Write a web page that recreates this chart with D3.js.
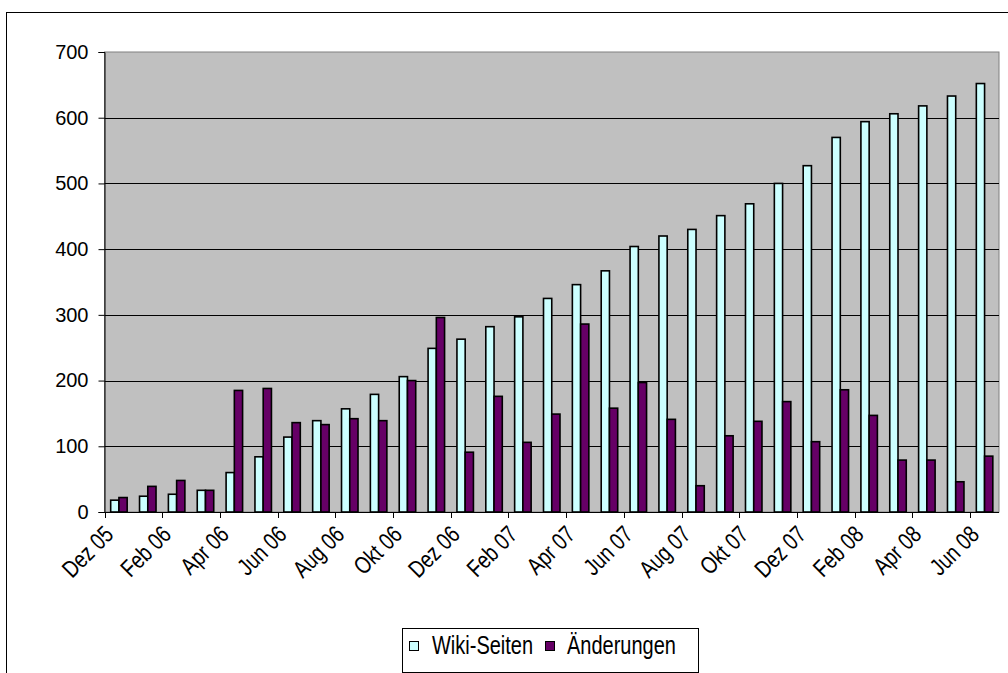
<!DOCTYPE html>
<html>
<head>
<meta charset="utf-8">
<script src="https://cdn.jsdelivr.net/npm/d3@7"></script>
<style>
  html, body { margin: 0; padding: 0; background: #ffffff; }
  svg { display: block; font-family: "Liberation Sans", Arial, sans-serif; }
</style>
</head>
<body>
<svg id="chart" width="1008" height="673"></svg>
<script>
// Monthly categories, Dez 05 .. Jun 08
const months = [
  "Dez 05", "Jan 06", "Feb 06", "Mär 06", "Apr 06", "Mai 06", "Jun 06", "Jul 06",
  "Aug 06", "Sep 06", "Okt 06", "Nov 06", "Dez 06", "Jan 07", "Feb 07", "Mär 07",
  "Apr 07", "Mai 07", "Jun 07", "Jul 07", "Aug 07", "Sep 07", "Okt 07", "Nov 07",
  "Dez 07", "Jan 08", "Feb 08", "Mär 08", "Apr 08", "Mai 08", "Jun 08"
];

// Number of wiki pages per month
const wikiSeiten = [
  18, 24, 27, 33, 60, 84, 114, 139, 157, 179, 206, 249, 263,
  282, 297, 325, 346, 367, 404, 420, 430, 451, 469, 500,
  527, 570, 594, 606, 618, 633, 652
];

// Number of edits per month
const aenderungen = [
  22, 39, 48, 33, 185, 188, 136, 133, 142, 139, 200, 296, 91,
  176, 106, 149, 286, 158, 197, 141, 40, 116, 138, 168,
  107, 186, 147, 79, 79, 46, 85
];

const seriesNames = ["Wiki-Seiten", "Änderungen"];
const seriesColors = ["#CCFFFF", "#660066"];
const yTicks = [0, 100, 200, 300, 400, 500, 600, 700];

const svg = d3.select("#chart");

// outer chart frame
svg.append("rect")
  .attr("x", 6.5).attr("y", 12.5)
  .attr("width", 1020).attr("height", 700)
  .attr("fill", "#ffffff").attr("stroke", "#000000").attr("stroke-width", 1);

const plot = { left: 104.5, right: 999, top: 52, bottom: 512 };

const x0 = d3.scaleBand()
  .domain(months)
  .range([plot.left, plot.right])
  .padding(0);

const x1 = d3.scaleBand()
  .domain(seriesNames)
  .range([0, x0.bandwidth()])
  .paddingInner(0)
  .paddingOuter(0.75);

const y = d3.scaleLinear()
  .domain([0, 700])
  .range([plot.bottom, plot.top]);

// plot background
svg.append("rect")
  .attr("x", plot.left).attr("y", plot.top)
  .attr("width", plot.right - plot.left).attr("height", plot.bottom - plot.top)
  .attr("fill", "#C0C0C0")
  .attr("stroke", "#808080").attr("stroke-width", 1);

// horizontal gridlines
svg.append("g")
  .selectAll("line")
  .data(yTicks.filter(d => d > 0 && d < 700))
  .join("line")
  .attr("x1", plot.left).attr("x2", plot.right)
  .attr("y1", d => Math.round(y(d)) + 0.5).attr("y2", d => Math.round(y(d)) + 0.5)
  .attr("stroke", "#000000").attr("stroke-width", 1);

// bars
const data = months.map((m, i) => ({ month: m, values: [wikiSeiten[i], aenderungen[i]] }));

const groups = svg.append("g")
  .selectAll("g")
  .data(data)
  .join("g")
  .attr("transform", d => `translate(${x0(d.month)},0)`);

groups.selectAll("rect")
  .data(d => d.values.map((v, k) => ({ name: seriesNames[k], value: v, k })))
  .join("rect")
  .attr("x", d => x1(d.name))
  .attr("y", d => y(d.value))
  .attr("width", x1.bandwidth())
  .attr("height", d => y(0) - y(d.value))
  .attr("fill", d => seriesColors[d.k])
  .attr("stroke", "#000000")
  .attr("stroke-width", 1.6);

// y axis
const yAxis = d3.axisLeft(y)
  .tickValues(yTicks)
  .tickSize(6)
  .tickPadding(10)
  .tickFormat(d3.format("d"));

const gy = svg.append("g")
  .attr("transform", `translate(${plot.left},0)`)
  .call(yAxis);
gy.select(".domain").attr("stroke", "#000000");
gy.selectAll(".tick line").attr("stroke", "#000000");
gy.selectAll(".tick text")
  .attr("font-size", 20)
  .attr("fill", "#000000")
  .attr("font-family", "Liberation Sans, Arial, sans-serif");

// x axis: ticks every second month boundary, labels under every second month
const xAxisLine = svg.append("g");
xAxisLine.append("line")
  .attr("x1", plot.left).attr("x2", plot.right)
  .attr("y1", plot.bottom + 0.5).attr("y2", plot.bottom + 0.5)
  .attr("stroke", "#000000");

xAxisLine.selectAll("line.tick")
  .data(months.filter((m, i) => i % 2 === 0))
  .join("line")
  .attr("class", "tick")
  .attr("x1", d => Math.round(x0(d)) + 0.5).attr("x2", d => Math.round(x0(d)) + 0.5)
  .attr("y1", plot.bottom).attr("y2", plot.bottom + 6)
  .attr("stroke", "#000000");

// narrow-set labels rotated by 45 degrees
xAxisLine.selectAll("text")
  .data(months.filter((m, i) => i % 2 === 0))
  .join("text")
  .attr("transform", d => `translate(${x0(d) + x0.bandwidth() / 2 - 4},${plot.bottom + 24}) rotate(-45) scale(0.8,1)`)
  .attr("text-anchor", "end")
  .attr("font-size", 24)
  .attr("fill", "#000000")
  .text(d => d);

// legend
const legend = svg.append("g");
legend.append("rect")
  .attr("x", 402.5).attr("y", 628.5)
  .attr("width", 296).attr("height", 44)
  .attr("fill", "#ffffff").attr("stroke", "#000000");

const legendItems = [
  { name: seriesNames[0], color: seriesColors[0], sx: 409, tx: 432 },
  { name: seriesNames[1], color: seriesColors[1], sx: 545, tx: 567 }
];
legend.selectAll("rect.sw")
  .data(legendItems)
  .join("rect")
  .attr("class", "sw")
  .attr("x", d => d.sx + 0.5).attr("y", 641.5)
  .attr("width", 9).attr("height", 9)
  .attr("fill", d => d.color).attr("stroke", "#000000");
legend.selectAll("text")
  .data(legendItems)
  .join("text")
  .attr("transform", d => `translate(${d.tx},653.5) scale(0.8,1)`)
  .attr("font-size", 25)
  .attr("fill", "#000000")
  .text(d => d.name);
</script>
</body>
</html>
